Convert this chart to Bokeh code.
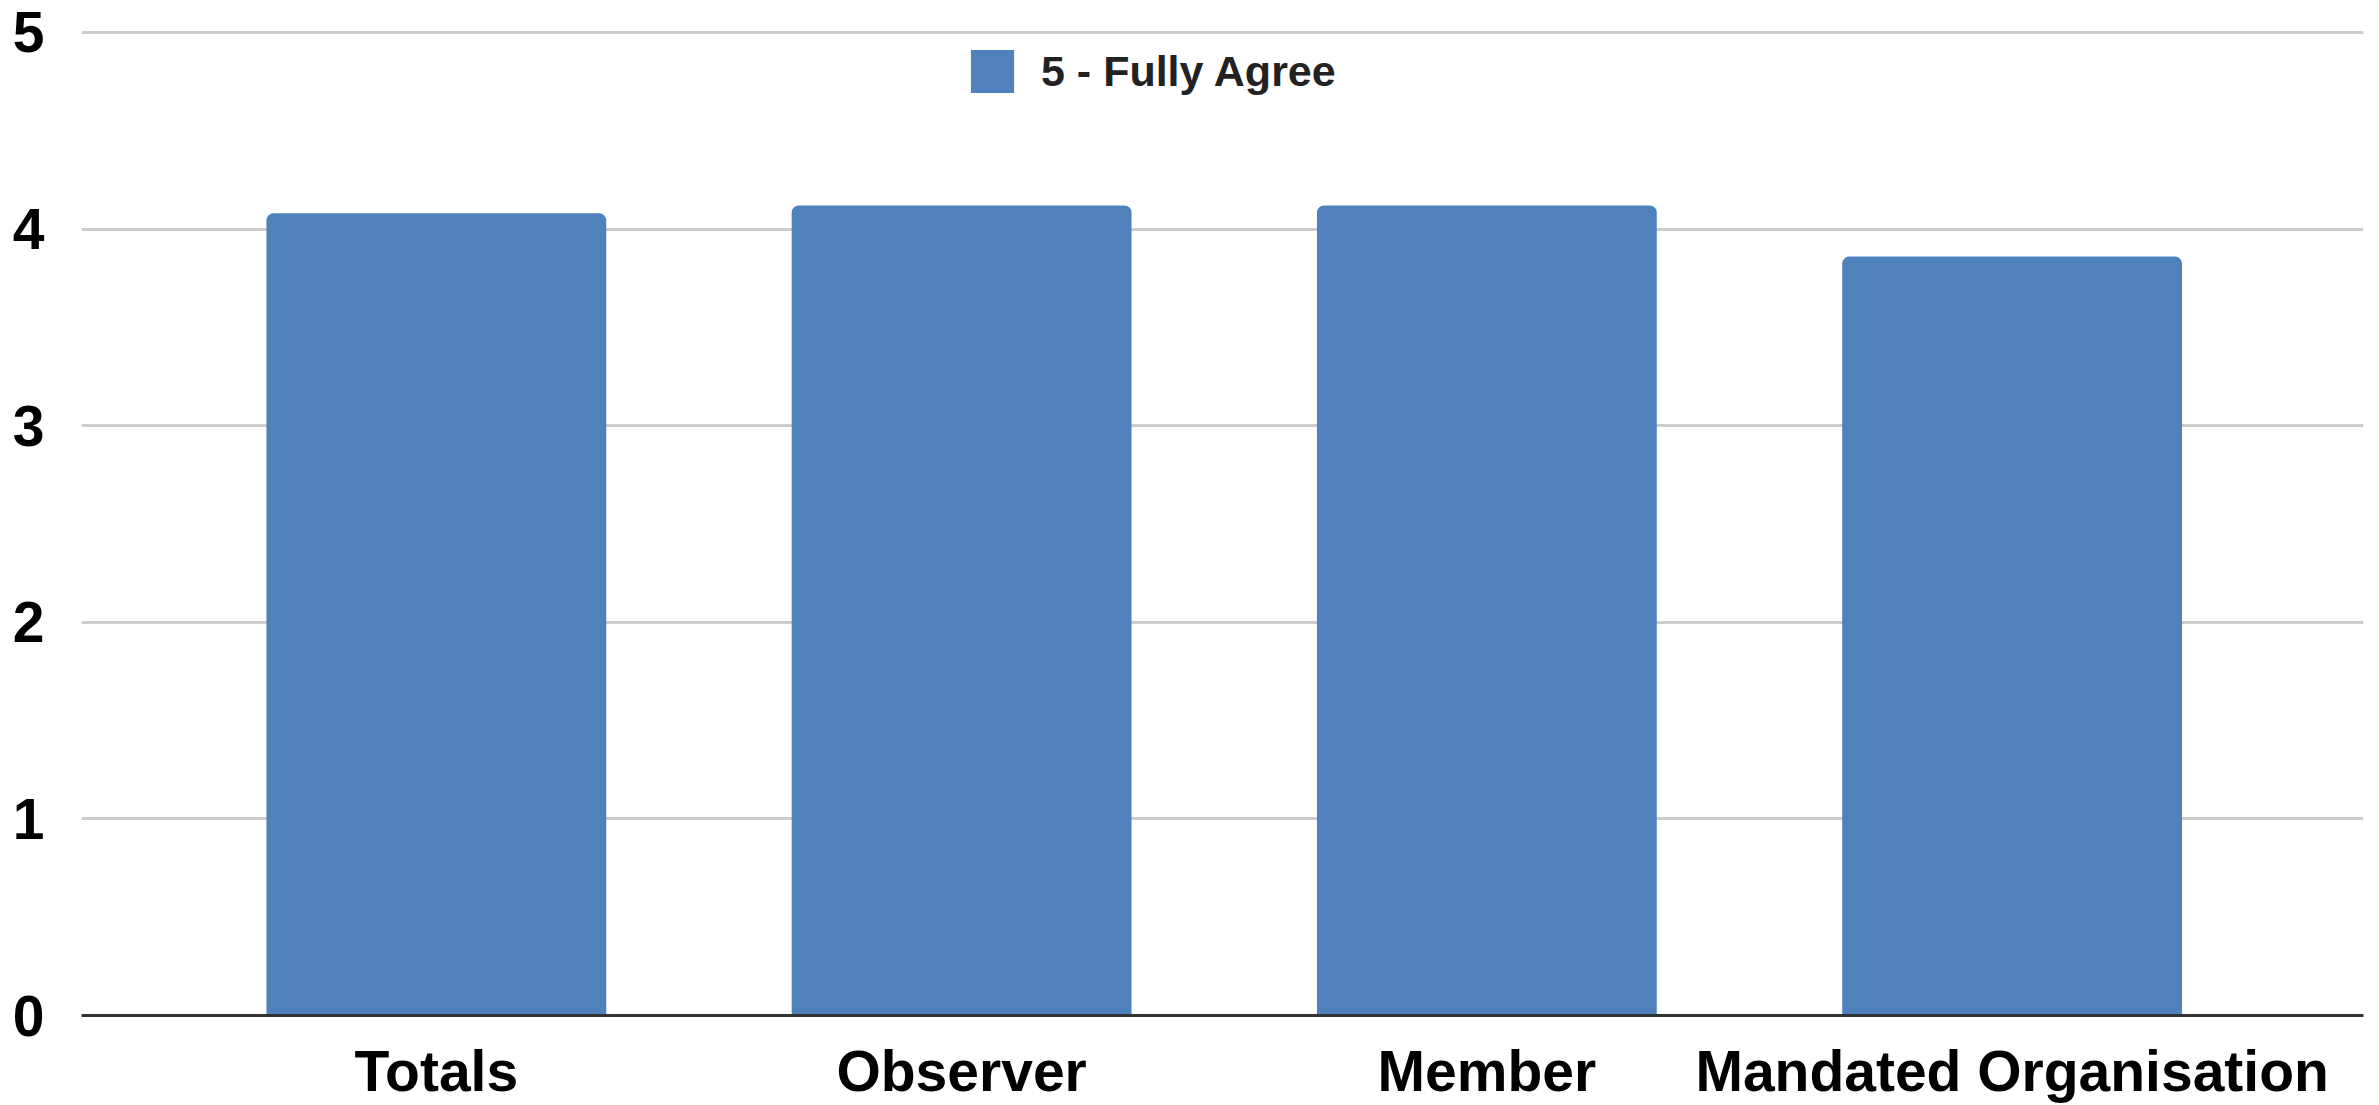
from bokeh.plotting import figure
from bokeh.models import (Range1d, FixedTicker, Legend, LegendItem, ColumnDataSource)
from bokeh.embed import file_html
from bokeh.resources import INLINE

# ---- data ----
categories = ["Totals", "Observer", "Member", "Mandated Organisation"]
positions = [0, 1, 2, 3]
fully_agree = [4.08, 4.12, 4.12, 3.86]
series_name = "5 - Fully Agree"
y_ticks = [0, 1, 2, 3, 4, 5]

BAR_COLOR = "#4f81bd"
FONT = "Liberation Sans"

src = ColumnDataSource(dict(x=positions, top=fully_agree, cat=categories))

p = figure(width=2379, height=1105, output_backend="svg", toolbar_location=None,
           x_range=Range1d(-0.6756, 3.669), y_range=Range1d(0, 5.01),
           min_border_left=81, min_border_right=16, min_border_top=30, min_border_bottom=87)
p.outline_line_color = None
p.background_fill_color = "white"
p.border_fill_color = "white"

r = p.vbar(x="x", top="top", bottom=0, width=0.647, source=src,
           fill_color=BAR_COLOR, line_color=None, border_radius=(7, 7, 0, 0))

# axes
p.xaxis.ticker = FixedTicker(ticks=positions)
p.xaxis.major_label_overrides = {pos: c for pos, c in zip(positions, categories)}
p.xaxis.major_label_text_font = FONT
p.xaxis.major_label_text_font_style = "bold"
p.xaxis.major_label_text_font_size = "57px"
p.xaxis.major_label_text_color = "#000000"
p.xaxis.major_label_standoff = 17
p.xaxis.major_tick_line_color = None
p.xaxis.minor_tick_line_color = None
p.xaxis.axis_line_color = "#333333"
p.xaxis.axis_line_width = 3

p.yaxis.ticker = FixedTicker(ticks=y_ticks)
p.yaxis.major_label_text_font = FONT
p.yaxis.major_label_text_font_style = "bold"
p.yaxis.major_label_text_font_size = "57px"
p.yaxis.major_label_text_color = "#000000"
p.yaxis.major_label_standoff = 31
p.yaxis.major_tick_line_color = None
p.yaxis.minor_tick_line_color = None
p.yaxis.axis_line_color = None

p.xgrid.grid_line_color = None
p.ygrid.ticker = FixedTicker(ticks=y_ticks[1:])
p.ygrid.grid_line_color = "#cccccc"
p.ygrid.grid_line_width = 3

legend = Legend(items=[LegendItem(label=series_name, renderers=[r])],
                location=(884, 917), orientation="horizontal",
                glyph_width=54, glyph_height=54, label_height=54,
                label_standoff=22, padding=0, margin=0, spacing=0,
                label_text_font=FONT, label_text_font_style="bold",
                label_text_font_size="43px", label_text_color="#222222",
                border_line_color=None, background_fill_alpha=0)
p.add_layout(legend, "center")

open("out.html", "w").write(file_html(p, INLINE))
